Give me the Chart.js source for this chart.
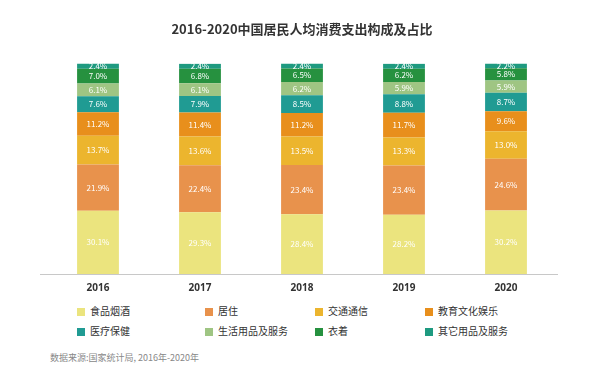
<!DOCTYPE html>
<html>
<head>
<meta charset="utf-8">
<script src="https://cdn.jsdelivr.net/npm/chart.js@4"></script>
<style>
  html, body { margin: 0; padding: 0; background: #fff; }
  body { width: 600px; height: 391px; position: relative; overflow: hidden; font-family: "Noto Sans CJK SC", "Noto Sans", sans-serif; }
  #wrap { position: absolute; left: 0; top: 0; width: 600px; height: 294px; }
  #legend { position: absolute; left: 0; top: 302px; width: 600px; height: 44px; }
  .item { position: absolute; font-size: 10px; color: #333; line-height: 12px; white-space: nowrap; }
  .item i { display: inline-block; width: 8px; height: 8px; margin-right: 5px; vertical-align: -1px; }
  #source { position: absolute; left: 50px; top: 351px; font-size: 9px; color: #888; }
</style>
</head>
<body>
<div id="wrap"><canvas id="chart"></canvas></div>
<div id="legend"></div>
<div id="source">数据来源:国家统计局, 2016年-2020年</div>
<script>
// 年份
const years = ['2016', '2017', '2018', '2019', '2020'];

// 各项支出占比 (%)
const food      = [30.1, 29.3, 28.4, 28.2, 30.2];
const housing   = [21.9, 22.4, 23.4, 23.4, 24.6];
const transport = [13.7, 13.6, 13.5, 13.3, 13.0];
const education = [11.2, 11.4, 11.2, 11.7, 9.6];
const medical   = [7.6, 7.9, 8.5, 8.8, 8.7];
const daily     = [6.1, 6.1, 6.2, 5.9, 5.9];
const clothing  = [7.0, 6.8, 6.5, 6.2, 5.8];
const other     = [2.4, 2.4, 2.4, 2.4, 2.2];

const seriesNames = ['食品烟酒', '居住', '交通通信', '教育文化娱乐', '医疗保健', '生活用品及服务', '衣着', '其它用品及服务'];
const seriesData = [food, housing, transport, education, medical, daily, clothing, other];
const seriesColors = ['#ebe47e', '#e8924c', '#ecb52e', '#e88f1c', '#209b93', '#9fc583', '#26913f', '#1e9a80'];

// 图例位置（4列2行）
const legendCols = [77, 205, 315, 425];

// 柱内数值标签 + 加长的底部轴线
const barLabels = {
    id: 'barLabels',
    afterDatasetsDraw(chart) {
        const ctx = chart.ctx;
        ctx.save();
        ctx.font = '8px "Noto Sans CJK SC", sans-serif';
        ctx.fillStyle = '#ffffff';
        ctx.textAlign = 'center';
        ctx.textBaseline = 'middle';
        chart.data.datasets.forEach((ds, i) => {
            chart.getDatasetMeta(i).data.forEach((bar, j) => {
                const p = bar.getProps(['x', 'y', 'base'], true);
                ctx.fillText(ds.data[j].toFixed(1) + '%', p.x, (p.y + p.base) / 2);
            });
        });
        // 轴线比绘图区略宽
        const area = chart.chartArea;
        ctx.strokeStyle = '#c8c8c8';
        ctx.lineWidth = 1;
        ctx.beginPath();
        ctx.moveTo(area.left - 7, area.bottom + 0.5);
        ctx.lineTo(area.right + 1, area.bottom + 0.5);
        ctx.stroke();
        ctx.restore();
    }
};

new Chart(document.getElementById('chart'), {
    type: 'bar',
    data: {
        labels: years,
        datasets: seriesNames.map((name, i) => ({
            label: name,
            data: seriesData[i],
            backgroundColor: seriesColors[i],
            borderWidth: 0,
            barPercentage: 0.82,
            categoryPercentage: 0.5
        }))
    },
    options: {
        responsive: true,
        maintainAspectRatio: false,
        animation: false,
        layout: { padding: { left: 47, right: 43, top: 0, bottom: 0 } },
        plugins: {
            legend: { display: false },
            tooltip: { enabled: false },
            title: {
                display: true,
                text: '2016-2020中国居民人均消费支出构成及占比',
                color: '#333',
                font: { family: '"Noto Sans CJK SC", sans-serif', size: 13, weight: 'bold' },
                padding: { top: 21, bottom: 27 }
            }
        },
        scales: {
            x: {
                stacked: true,
                grid: { display: false },
                border: { display: false },
                ticks: { color: '#333', font: { family: '"Noto Sans", sans-serif', size: 10, weight: 'bold' }, padding: 0 }
            },
            y: {
                stacked: true,
                display: false,
                min: 0,
                max: 100
            }
        }
    },
    plugins: [barLabels]
});

// HTML 图例
const legend = document.getElementById('legend');
seriesNames.forEach((name, k) => {
    const el = document.createElement('div');
    el.className = 'item';
    el.style.left = legendCols[k % 4] + 'px';
    el.style.top = (k < 4 ? 3 : 23) + 'px';
    el.innerHTML = '<i style="background:' + seriesColors[k] + '"></i>' + name;
    legend.appendChild(el);
});
</script>
</body>
</html>
